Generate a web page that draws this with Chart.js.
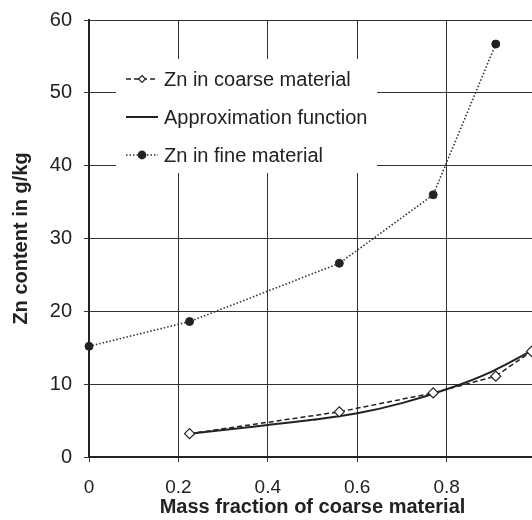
<!DOCTYPE html>
<html>
<head>
<meta charset="utf-8">
<script src="https://cdn.jsdelivr.net/npm/chart.js@4"></script>
<style>
  html, body { margin: 0; padding: 0; background: #fff; overflow: hidden; }
  #wrap { width: 560px; height: 520px; }
</style>
</head>
<body>
<div id="wrap"><canvas id="graphique" width="560" height="520"></canvas></div>
<script>
// valeurs
const xGrossier = [0.225, 0.56, 0.77, 0.91, 0.99];
const znGrossier = [3.2, 6.2, 8.8, 11.1, 14.5];

const xApprox = [0.225, 0.3, 0.4, 0.5, 0.6, 0.7, 0.8, 0.9, 1.0];
const znApprox = [3.2, 3.7, 4.4, 5.1, 6.0, 7.4, 9.3, 11.7, 14.9];

const xFin = [0, 0.225, 0.56, 0.77, 0.91];
const znFin = [15.2, 18.6, 26.6, 36.0, 56.7];

const libelles = ["Zn in coarse material", "Approximation function", "Zn in fine material"];

const encre = "#222";
const police = "'Liberation Sans', Arial, sans-serif";

function points(xs, ys) {
  return xs.map((x, i) => ({ x: x, y: ys[i] }));
}

// legende dessinee a la main dans la zone du graphique
const legendeInterne = {
  id: "legendeInterne",
  afterDraw(chart) {
    const ctx = chart.ctx;
    const left = chart.chartArea.left;
    const top = chart.chartArea.top;
    ctx.save();
    ctx.fillStyle = "#fff";
    ctx.fillRect(left + 27, top + 39, 261, 114);
    const lignes = [top + 59, top + 97, top + 135];
    chart.data.datasets.forEach((ds, i) => {
      const y = lignes[i];
      ctx.strokeStyle = ds.borderColor;
      ctx.lineWidth = ds.borderWidth;
      ctx.setLineDash(ds.borderDash || []);
      ctx.beginPath();
      ctx.moveTo(left + 37, y);
      ctx.lineTo(left + 69, y);
      ctx.stroke();
      ctx.setLineDash([]);
      if (ds.pointRadius > 0) {
        ctx.fillStyle = ds.pointBackgroundColor;
        ctx.strokeStyle = ds.pointBorderColor;
        ctx.lineWidth = 1.2;
        ctx.beginPath();
        if (ds.pointStyle === "rectRot") {
          const r = 3.5;
          ctx.moveTo(left + 53, y - r);
          ctx.lineTo(left + 53 + r, y);
          ctx.lineTo(left + 53, y + r);
          ctx.lineTo(left + 53 - r, y);
          ctx.closePath();
        } else {
          ctx.arc(left + 53, y, 3.8, 0, Math.PI * 2);
        }
        ctx.fill();
        ctx.stroke();
      }
      ctx.fillStyle = encre;
      ctx.font = "20px " + police;
      ctx.textBaseline = "middle";
      ctx.textAlign = "left";
      ctx.fillText(libelles[i], left + 75, y + 1);
    });
    ctx.restore();
  },
};

const ctx = document.getElementById("graphique").getContext("2d");
new Chart(ctx, {
  type: "scatter",
  data: {
    datasets: [
      {
        label: libelles[0],
        data: points(xGrossier, znGrossier),
        showLine: true,
        borderColor: encre,
        borderWidth: 1.5,
        borderDash: [5, 3],
        pointStyle: "rectRot",
        pointRadius: 5,
        pointBorderWidth: 1.2,
        pointBackgroundColor: "#fff",
        pointBorderColor: encre,
        order: 1,
      },
      {
        label: libelles[1],
        data: points(xApprox, znApprox),
        showLine: true,
        borderColor: encre,
        borderWidth: 2,
        pointRadius: 0,
        cubicInterpolationMode: "monotone",
        order: 2,
      },
      {
        label: libelles[2],
        data: points(xFin, znFin),
        showLine: true,
        borderColor: "#333",
        borderWidth: 1.6,
        borderDash: [1.5, 2],
        pointStyle: "circle",
        pointRadius: 4,
        pointBorderWidth: 1,
        pointBackgroundColor: encre,
        pointBorderColor: encre,
        order: 0,
      },
    ],
  },
  options: {
    responsive: false,
    animation: false,
    clip: false,
    layout: { padding: { left: 0, top: 20, right: 24, bottom: 0 } },
    plugins: {
      legend: { display: false },
      tooltip: { enabled: false },
    },
    scales: {
      x: {
        type: "linear",
        min: 0,
        max: 1,
        afterFit: (s) => {
          s.height = 63;
          s.paddingLeft = 0;
          s.paddingRight = 0;
        },
        ticks: {
          stepSize: 0.2,
          color: encre,
          padding: 14,
          maxRotation: 0,
          font: { size: 19, family: police },
          // la graduation 1 est coupee par le bord droit
          callback: (v) => (v >= 1 ? "" : v),
        },
        grid: { color: "#333", lineWidth: 1, tickLength: 5 },
        border: { color: encre, width: 2 },
        title: {
          display: true,
          text: "Mass fraction of coarse material",
          color: encre,
          padding: { top: 0, bottom: 1 },
          font: { size: 20, weight: "bold", family: police },
        },
      },
      y: {
        min: 0,
        max: 60,
        afterFit: (s) => {
          s.width = 89;
          s.paddingTop = 0;
          s.paddingBottom = 0;
        },
        ticks: {
          stepSize: 10,
          color: encre,
          padding: 12,
          font: { size: 20, family: police },
        },
        grid: { color: "#333", lineWidth: 1, tickLength: 5 },
        border: { color: encre, width: 2 },
        title: {
          display: true,
          text: "Zn content in g/kg",
          color: encre,
          padding: { top: 9, bottom: 0 },
          font: { size: 20, weight: "bold", family: police },
        },
      },
    },
  },
  plugins: [legendeInterne],
});
</script>
</body>
</html>
